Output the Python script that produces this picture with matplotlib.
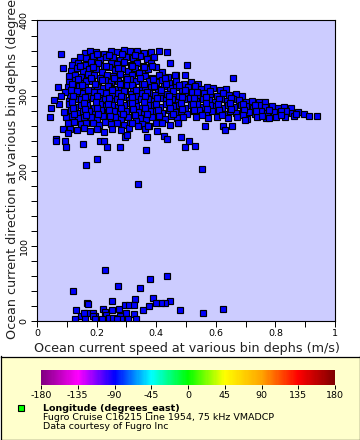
import matplotlib
matplotlib.use("Agg")
import matplotlib.pyplot as plt
import numpy as np
from matplotlib.colors import LinearSegmentedColormap, Normalize
from matplotlib.ticker import MultipleLocator, FuncFormatter
import matplotlib.colorbar as mcolorbar

# dense cloud (speed m/s, direction deg)
core_speed = [
    0.160, 0.178, 0.199, 0.224, 0.248, 0.268, 0.291, 0.312, 0.334, 0.358, 0.383, 0.408, 0.437,
    0.124, 0.143, 0.166, 0.188, 0.211, 0.233, 0.256, 0.279, 0.298, 0.321, 0.344, 0.369, 0.394,
    0.118, 0.139, 0.162, 0.181, 0.204, 0.226, 0.247, 0.268, 0.291, 0.314, 0.336, 0.357, 0.381, 0.446, 0.503,
    0.114, 0.133, 0.154, 0.176, 0.198, 0.219, 0.241, 0.262, 0.284, 0.306, 0.328, 0.351, 0.374, 0.398, 0.421,
    0.109, 0.128, 0.149, 0.171, 0.192, 0.213, 0.236, 0.255, 0.277, 0.299, 0.319, 0.341, 0.362, 0.386, 0.409, 0.438, 0.467, 0.497,
    0.107, 0.126, 0.144, 0.166, 0.185, 0.206, 0.227, 0.249, 0.271, 0.292, 0.311, 0.332, 0.354, 0.376, 0.399, 0.421, 0.444, 0.468,
    0.492, 0.517, 0.541,
    0.104, 0.123, 0.141, 0.162, 0.181, 0.202, 0.221, 0.243, 0.262, 0.283, 0.303, 0.322, 0.343, 0.364, 0.384, 0.405, 0.426, 0.447,
    0.466, 0.487, 0.508, 0.529, 0.549, 0.571, 0.592, 0.614, 0.633,
    0.112, 0.131, 0.151, 0.172, 0.191, 0.212, 0.233, 0.252, 0.273, 0.294, 0.314, 0.333, 0.354, 0.375, 0.396, 0.415, 0.436, 0.457,
    0.478, 0.498, 0.519, 0.539, 0.561, 0.582, 0.603, 0.624, 0.645, 0.667, 0.688,
    0.106, 0.127, 0.146, 0.166, 0.187, 0.207, 0.228, 0.247, 0.268, 0.289, 0.309, 0.329, 0.349, 0.371, 0.391, 0.412, 0.432, 0.452,
    0.473, 0.493, 0.514, 0.535, 0.556, 0.576, 0.597, 0.618, 0.638, 0.659, 0.679, 0.701, 0.722, 0.744, 0.765,
    0.108, 0.129, 0.149, 0.169, 0.190, 0.211, 0.231, 0.251, 0.271, 0.292, 0.312, 0.333, 0.353, 0.373, 0.394, 0.414, 0.434, 0.455,
    0.476, 0.496, 0.517, 0.537, 0.558, 0.579, 0.599, 0.621, 0.641, 0.662, 0.683, 0.703, 0.724, 0.746, 0.766, 0.787, 0.808, 0.829,
    0.851,
    0.093, 0.113, 0.134, 0.155, 0.175, 0.196, 0.216, 0.237, 0.257, 0.278, 0.298, 0.318, 0.339, 0.360, 0.381, 0.401, 0.421, 0.442,
    0.462, 0.483, 0.503, 0.524, 0.545, 0.566, 0.586, 0.607, 0.628, 0.648, 0.669, 0.690, 0.711, 0.731, 0.752, 0.773, 0.794, 0.815,
    0.836, 0.857, 0.877, 0.896,
    0.098, 0.118, 0.139, 0.159, 0.180, 0.201, 0.221, 0.242, 0.262, 0.283, 0.304, 0.324, 0.345, 0.366, 0.387, 0.408, 0.428, 0.449,
    0.469, 0.490, 0.532, 0.574, 0.603, 0.641, 0.672, 0.704, 0.737, 0.768, 0.801, 0.832, 0.862,
    0.104, 0.124, 0.146, 0.166, 0.187, 0.208, 0.229, 0.249, 0.270, 0.291, 0.312, 0.333, 0.354, 0.375, 0.398, 0.421, 0.447, 0.472,
    0.112, 0.133, 0.157, 0.179, 0.203, 0.226, 0.252, 0.281, 0.310, 0.362, 0.402,
]
core_dir = [
    357, 359, 358, 356, 360, 358, 361, 359, 360, 357, 358, 359, 358,
    346, 352, 350, 353, 349, 351, 352, 348, 351, 350, 353, 349, 352,
    341, 344, 341, 345, 343, 340, 344, 342, 345, 341, 343, 339, 344, 343, 341,
    333, 337, 333, 336, 335, 332, 338, 334, 336, 333, 337, 331, 335, 338, 331,
    326, 328, 325, 329, 327, 324, 328, 326, 329, 325, 327, 330, 326, 324, 328, 325, 327, 328,
    318, 321, 317, 320, 319, 316, 321, 318, 320, 317, 322, 319, 316, 320, 318, 321, 317, 319,
    316, 318, 315,
    312, 309, 313, 311, 308, 312, 310, 313, 309, 311, 314, 310, 308, 312, 311, 309, 313, 310,
    312, 308, 311, 313, 309, 311, 310, 308, 309,
    301, 304, 303, 300, 305, 302, 304, 301, 303, 306, 302, 300, 304, 303, 301, 305, 302, 304,
    300, 303, 305, 301, 303, 302, 300, 304, 301, 302, 299,
    293, 296, 295, 292, 297, 294, 296, 293, 295, 298, 294, 292, 296, 295, 293, 297, 294, 296,
    292, 295, 297, 293, 295, 294, 292, 296, 293, 295, 294, 292, 293, 291, 292,
    289, 285, 288, 287, 284, 289, 286, 288, 285, 287, 290, 286, 284, 288, 287, 285, 289, 286,
    288, 284, 287, 289, 285, 287, 286, 284, 288, 285, 287, 286, 284, 287, 285, 286, 284, 285,
    283,
    278, 281, 277, 280, 279, 276, 281, 278, 280, 277, 279, 282, 278, 276, 280, 279, 277, 281,
    278, 280, 276, 279, 281, 277, 279, 278, 276, 280, 277, 279, 278, 276, 279, 277, 278, 276,
    279, 277, 278, 276,
    271, 273, 270, 272, 271, 269, 273, 270, 272, 269, 271, 274, 270, 269, 272, 271, 269, 273,
    270, 272, 271, 270, 272, 270, 271, 269, 272, 270, 271, 272, 273,
    263, 265, 262, 264, 263, 261, 265, 262, 264, 261, 263, 266, 262, 259, 264, 263, 261, 264,
    256, 254, 257, 253, 255, 252, 256, 254, 257, 255, 253,
]

# second pass over the thickest part of the cloud (between the rows above)
core2_speed = [
    0.200, 0.240, 0.285, 0.330,
    0.143, 0.187, 0.230, 0.273, 0.318, 0.360,
    0.138, 0.180, 0.218, 0.260, 0.302, 0.345, 0.390, 0.430,
    0.117, 0.152, 0.196, 0.238, 0.277, 0.318, 0.358, 0.394, 0.433, 0.478,
    0.115, 0.135, 0.171, 0.211, 0.252, 0.292, 0.333, 0.370, 0.415, 0.456, 0.497, 0.538, 0.580,
    0.120, 0.160, 0.200, 0.240, 0.281, 0.320, 0.362, 0.402, 0.444, 0.485, 0.526, 0.567, 0.610, 0.650,
    0.117, 0.158, 0.197, 0.238, 0.279, 0.318, 0.360, 0.400, 0.442, 0.483, 0.524, 0.566, 0.607, 0.649, 0.690, 0.733,
    0.120, 0.160, 0.200, 0.241, 0.282, 0.323, 0.364, 0.405, 0.445, 0.487, 0.528, 0.569, 0.611, 0.652, 0.694, 0.735,
    0.777, 0.818,
    0.125, 0.165, 0.205, 0.246, 0.288, 0.330, 0.370, 0.410, 0.455, 0.555, 0.620, 0.690, 0.755, 0.820, 0.870,
]
core2_dir = [
    355, 354, 355, 354,
    339, 338, 340, 337, 339, 338,
    322, 323, 321, 323, 322, 324, 322, 323,
    315, 314, 316, 313, 315, 314, 316, 313, 315, 314,
    307, 306, 308, 305, 307, 306, 308, 305, 307, 306, 308, 305, 306,
    299, 298, 300, 297, 299, 298, 300, 297, 299, 298, 297, 298, 296, 297,
    291, 290, 292, 289, 291, 290, 292, 289, 291, 290, 289, 290, 289, 290, 289, 288,
    283, 282, 284, 281, 283, 282, 284, 281, 283, 282, 281, 282, 281, 282, 281, 280,
    281, 280,
    275, 274, 276, 273, 275, 274, 276, 273, 275, 274, 274, 274, 273, 274, 275,
]

# loose points around the cloud
fringe_speed = [0.081, 0.088, 0.070, 0.095, 0.075, 0.057, 0.047, 0.044, 0.080, 0.090, 0.086, 0.104,
                0.065, 0.065, 0.095, 0.098, 0.154, 0.164, 0.201, 0.210, 0.225, 0.234, 0.279, 0.296,
                0.302, 0.338, 0.366, 0.370, 0.426, 0.436, 0.484, 0.497, 0.510, 0.530, 0.553, 0.319,
                0.339, 0.371, 0.473, 0.564, 0.625, 0.632, 0.654, 0.698, 0.780, 0.912, 0.939, 0.658,
                0.463, 0.385]
fringe_dir = [356, 337, 312, 305, 289, 294, 284, 272, 300, 278, 256, 250,
              242, 239, 239, 232, 236, 207, 215, 239, 240, 232, 232, 245,
              248, 182, 227, 245, 246, 242, 245, 232, 239, 233, 202, 263,
              259, 259, 264, 260, 260, 254, 259, 268, 270, 273, 273, 324,
              328, 339]

# group near 0 degrees
low_speed = [0.121, 0.229, 0.272, 0.379, 0.435, 0.346, 0.329, 0.388, 0.446, 0.429, 0.415, 0.400,
             0.375, 0.357, 0.480, 0.556, 0.623, 0.132, 0.167, 0.170, 0.149, 0.167, 0.157, 0.187,
             0.196, 0.187, 0.127, 0.162, 0.221, 0.227, 0.252, 0.253, 0.274, 0.294, 0.310, 0.327,
             0.327, 0.299, 0.280, 0.232, 0.241, 0.254, 0.283, 0.304, 0.331, 0.270, 0.218, 0.193]
low_dir = [40, 68, 47, 56, 60, 44, 29, 31, 27, 24, 24, 24,
           20, 15, 14, 10, 16, 15, 24, 22, 7, 11, 11, 11,
           6, 6, 2, 2, 16, 12, 26, 14, 16, 21, 21, 21,
           9, 10, 7, 8, 4, 4, 2, 2, 2, 3, 2, 3]

cbar_ticks = [-180, -135, -90, -45, 0, 45, 90, 135, 180]
cbar_colors = ['#800080', '#ff00ff', '#0000ff', '#00ffff', '#00ff00',
               '#ffff00', '#ffa500', '#ff0000', '#800000']

W, H = 360, 440
fig = plt.figure(figsize=(3.6, 4.4), dpi=100)
fig.patch.set_facecolor('white')

ax = fig.add_axes([37 / W, 1 - 321 / H, 298 / W, 300.5 / H])
ax.set_facecolor('#ccccff')
mk = dict(ls='none', marker='s', ms=4.9, mfc='#0000ff', mec='black', mew=0.85)
ax.plot(core_speed, core_dir, **mk)
ax.plot(core2_speed, core2_dir, **mk)
ax.plot(fringe_speed, fringe_dir, **mk)
ax.plot(low_speed, low_dir, **mk)
ax.set_xlim(0, 1)
ax.set_ylim(0, 400)
ax.xaxis.set_major_locator(MultipleLocator(0.2))
ax.xaxis.set_minor_locator(MultipleLocator(0.1))
ax.yaxis.set_major_locator(MultipleLocator(100))
ax.yaxis.set_minor_locator(MultipleLocator(20))
ax.xaxis.set_major_formatter(FuncFormatter(lambda v, p: '%g' % round(v, 2)))
ax.tick_params(which='both', direction='out', length=4.5, width=0.7, labelsize=6.8, pad=1.5)
for lab in ax.get_yticklabels():
    lab.set_rotation(90)
    lab.set_va('center')
for s in ax.spines.values():
    s.set_linewidth(0.8)

fig.text(186.5 / W, 1 - 348 / H, 'Ocean current speed at various bin dephs (m/s)',
         ha='center', va='center', fontsize=9.15, color='#222222')
fig.text(12.5 / W, 1 - 339 / H, 'Ocean current direction at various bin dephs (degrees_north)',
         ha='center', va='bottom', rotation=90, fontsize=9.15, color='#222222')

# legend panel
lg = fig.add_axes([0.5 / W, 0.5 / H, 359 / W, 83 / H])
lg.set_facecolor('#ffffcc')
lg.set_xticks([])
lg.set_yticks([])
for s in lg.spines.values():
    s.set_linewidth(0.9)
lg.set_xlim(0, W)
lg.set_ylim(440, 356.5)

cax = fig.add_axes([41 / W, 1 - 385 / H, 294 / W, 15.5 / H])
cmap = LinearSegmentedColormap.from_list('rb2', list(zip(np.linspace(0, 1, len(cbar_colors)), cbar_colors)))
cb = mcolorbar.ColorbarBase(cax, cmap=cmap, norm=Normalize(-180, 180), orientation='horizontal',
                            ticks=cbar_ticks)
cb.outline.set_visible(False)
cb.ax.set_xticklabels([str(t) for t in cbar_ticks])
cb.ax.tick_params(length=3, width=0.7, labelsize=6.8, pad=1.5)

lg.plot([21], [408.5], ls='none', marker='s', ms=4.2, mfc='#00ff00', mec='black', mew=0.8)
lg.text(42.5, 408.5, 'Longitude (degrees_east)', fontsize=6.8, fontweight='bold', va='center')
lg.text(42.5, 418, 'Fugro Cruise C16215 Line 1954, 75 kHz VMADCP', fontsize=6.8, va='center')
lg.text(42.5, 427, 'Data courtesy of Fugro Inc', fontsize=6.8, va='center')

fig.savefig('out.png', dpi=100)
